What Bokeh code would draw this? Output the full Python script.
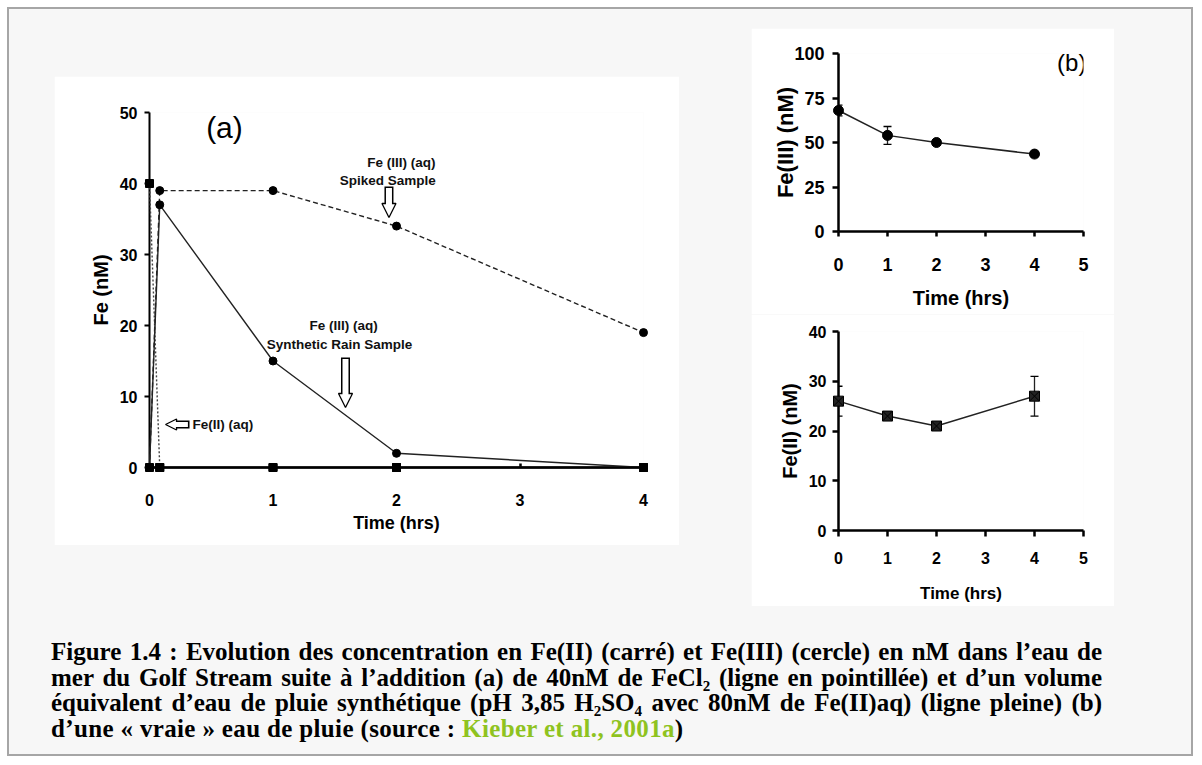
import math
from bokeh.plotting import figure
from bokeh.models import (Range1d, FixedTicker, Label, Arrow, NormalHead, TeeHead,
                          Whisker, ColumnDataSource, Spacer, Div)
from bokeh.layouts import row, column
from bokeh.embed import file_html
from bokeh.resources import INLINE

# ---------------- data : panel (a) ----------------
time_a = [0, 0.083, 1, 2, 4]
fe3_spiked = [0, 39, 39, 34, 19]
fe2_spiked = [40, 0, 0, 0, 0]
fe3_rain = [0, 37, 15, 2, 0]
fe2_rain = [0, 0, 0, 0, 0]
ticks_a_x = [0, 1, 2, 3, 4]
ticks_a_y = [0, 10, 20, 30, 40, 50]

# ---------------- data : panel (b) ----------------
time_b = [0, 1, 2, 4]
fe3_real = [68, 54, 50, 43.5]
fe3_err = [3, 5, 1.5, 1.5]
fe2_real = [26, 23, 21, 27]
fe2_err = [3, 0.7, 0.8, 4]
ticks_b_x = [0, 1, 2, 3, 4, 5]
ticks_b1_y = [0, 25, 50, 75, 100]
ticks_b2_y = [0, 10, 20, 30, 40]

caption_lines = [
    "Figure 1.4 : Evolution des concentration en Fe(II) (carré) et Fe(III) (cercle) en nM dans l’eau de",
    "mer du Golf Stream suite à l’addition (a) de 40nM de FeCl₂ (ligne en pointillée) et d’un volume",
    "équivalent d’eau de pluie synthétique (pH 3,85 H₂SO₄ avec 80nM de Fe(II)aq) (ligne pleine) (b)",
    "d’une « vraie » eau de pluie (source : <span style=\"color:#8fc31f\">Kieber et al., 2001a</span>)",
]

SANS = "Liberation Sans"


def base_fig(w, h, xr, yr, bl, br, bt, bb):
    p = figure(width=w, height=h, x_range=Range1d(*xr), y_range=Range1d(*yr),
               output_backend="svg", toolbar_location=None,
               min_border_left=bl, min_border_right=br, min_border_top=bt, min_border_bottom=bb)
    p.xgrid.visible = False
    p.ygrid.visible = False
    p.outline_line_color = None
    p.background_fill_color = "white"
    p.border_fill_color = "white"
    return p


def style_axis(ax, ticks, bounds, tin, tout, font_size, standoff, label_size, label_standoff, lw=2):
    ax.ticker = FixedTicker(ticks=ticks)
    ax.bounds = bounds
    ax.axis_line_width = lw
    ax.axis_line_color = "black"
    ax.major_tick_line_width = lw
    ax.major_tick_line_color = "black"
    ax.major_tick_in = tin
    ax.major_tick_out = tout
    ax.minor_tick_line_color = None
    ax.major_label_text_font = SANS
    ax.major_label_text_font_style = "bold"
    ax.major_label_text_font_size = font_size
    ax.major_label_text_color = "black"
    ax.major_label_standoff = standoff
    ax.axis_label_text_font = SANS
    ax.axis_label_text_font_style = "bold"
    ax.axis_label_text_font_size = label_size
    ax.axis_label_text_color = "black"
    ax.axis_label_standoff = label_standoff


def hollow_arrow(p, x0, y0, x1, y1, pxx, pxy, head=14, shaft=9):
    p.add_layout(Arrow(x_start=x0, y_start=y0, x_end=x1, y_end=y1,
                       line_width=shaft, line_color="black",
                       end=NormalHead(size=head, fill_color="white", line_color="black", line_width=1.3)))
    dx = (x1 - x0) * pxx
    dy = (y1 - y0) * pxy
    L = math.hypot(dx, dy)
    ux, uy = dx / L, dy / L
    p.add_layout(Arrow(x_start=x0 + ux * 1.6 / pxx, y_start=y0 + uy * 1.6 / pxy,
                       x_end=x1 - ux * (head - 2) / pxx, y_end=y1 - uy * (head - 2) / pxy,
                       line_width=shaft - 3, line_color="white", end=None))


def note(p, x, y, text, align="center", size="13.5px"):
    p.add_layout(Label(x=x, y=y, text=text, text_font=SANS, text_font_style="bold",
                       text_font_size=size, text_align=align, text_baseline="middle",
                       text_color="#111111"))


# ---------------- panel (a) ----------------
pa = base_fig(625, 469, (0, 4), (0, 50), 95, 36, 36, 78)
pa.xaxis.axis_label = "Time (hrs)"
pa.yaxis.axis_label = "Fe (nM)"
style_axis(pa.xaxis[0], ticks_a_x, (0, 4), 4, 0, "16px", 26, "18px", 4, lw=2.5)
style_axis(pa.yaxis[0], ticks_a_y, (0, 50), 0, 5, "16px", 7, "20px", 5)

src_a = ColumnDataSource(dict(t=time_a, s3=fe3_spiked, s2=fe2_spiked, r3=fe3_rain, r2=fe2_rain))
pa.line("t", "s3", source=src_a, line_color="#222222", line_width=1.4, line_dash="5 3", level="overlay")
pa.line("t", "s2", source=src_a, line_color="#444444", line_width=1.4, line_dash="2 2", level="overlay")
pa.line("t", "r3", source=src_a, line_color="#222222", line_width=1.4, level="overlay")
pa.line("t", "r2", source=src_a, line_color="black", line_width=2, level="overlay")
pa.scatter("t", "s3", source=src_a, marker="circle", size=8, color="black", level="overlay")
pa.scatter("t", "r3", source=src_a, marker="circle", size=8, color="black", level="overlay")
pa.scatter("t", "s2", source=src_a, marker="square", size=8, color="black", level="overlay")
pa.scatter("t", "r2", source=src_a, marker="square", size=8, color="black", level="overlay")

pxx_a = 494 / 4.0
pxy_a = 355 / 50.0
pa.add_layout(Label(x=0.607, y=47.9, text="(a)", text_font=SANS, text_font_size="30px",
                    text_align="center", text_baseline="middle", text_color="black"))
note(pa, 2.04, 42.96, "Fe (III) (aq)")
note(pa, 1.93, 40.4, "Spiked Sample")
note(pa, 1.571, 20.0, "Fe (III) (aq)")
note(pa, 1.538, 17.32, "Synthetic Rain Sample")
note(pa, 0.348, 6.06, "Fe(II) (aq)", align="left")
hollow_arrow(pa, 1.939, 39.58, 1.939, 35.21, pxx_a, pxy_a)
hollow_arrow(pa, 1.587, 15.49, 1.587, 8.45, pxx_a, pxy_a)
hollow_arrow(pa, 0.324, 6.06, 0.13, 6.06, pxx_a, pxy_a, head=11, shaft=8)

# ---------------- panel (b) top ----------------
pb1 = base_fig(363, 286, (0, 5), (0, 100), 81, 31, 25, 83)
pb1.xaxis.axis_label = "Time (hrs)"
pb1.yaxis.axis_label = "Fe(III) (nM)"
style_axis(pb1.xaxis[0], ticks_b_x, (0, 5), 0, 5, "18px", 21, "20px", 13, lw=2.5)
style_axis(pb1.yaxis[0], ticks_b1_y, (0, 100), 0, 6, "18px", 8, "22px", -7, lw=2.5)

src_b1 = ColumnDataSource(dict(t=time_b, v=fe3_real,
                               lo=[v - e for v, e in zip(fe3_real, fe3_err)],
                               hi=[v + e for v, e in zip(fe3_real, fe3_err)]))
pb1.line("t", "v", source=src_b1, line_color="#222222", line_width=1.5, level="overlay")
pb1.add_layout(Whisker(source=src_b1, base="t", lower="lo", upper="hi", dimension="height",
                       line_width=1.3, line_color="#222222",
                       lower_head=TeeHead(size=8, line_width=1.3), upper_head=TeeHead(size=8, line_width=1.3)))
pb1.scatter("t", "v", source=src_b1, marker="circle", size=10, color="black", level="overlay")
pb1.add_layout(Label(x=4.76, y=94.9, text="(b)", text_font=SANS, text_font_size="24px",
                     text_align="center", text_baseline="middle", text_color="black"))

# ---------------- panel (b) bottom ----------------
pb2 = base_fig(363, 292, (0, 5), (0, 40), 87, 14, 17, 76)
pb2.xaxis.axis_label = "Time (hrs)"
pb2.yaxis.axis_label = "Fe(II) (nM)"
style_axis(pb2.xaxis[0], ticks_b_x, (0, 5), 0, 6, "16px", 15, "17px", 17, lw=2.5)
style_axis(pb2.yaxis[0], ticks_b2_y, (0, 40), 0, 6, "16px", 6, "20px", 5, lw=2.5)

src_b2 = ColumnDataSource(dict(t=time_b, v=fe2_real,
                               lo=[v - e for v, e in zip(fe2_real, fe2_err)],
                               hi=[v + e for v, e in zip(fe2_real, fe2_err)]))
pb2.line("t", "v", source=src_b2, line_color="#222222", line_width=1.5, level="overlay")
pb2.add_layout(Whisker(source=src_b2, base="t", lower="lo", upper="hi", dimension="height",
                       line_width=1.3, line_color="#222222",
                       lower_head=TeeHead(size=8, line_width=1.3), upper_head=TeeHead(size=8, line_width=1.3)))
pb2.scatter("t", "v", source=src_b2, marker="square_x", size=10, fill_color="#222222",
            line_color="black", level="overlay")

# ---------------- caption ----------------
line_style = "height:25.5px;line-height:25.5px;white-space:normal;"
html = ""
for i, ln in enumerate(caption_lines):
    if i < 3:
        html += f'<div style="{line_style}text-align:justify;text-align-last:justify;">{ln}</div>'
    else:
        html += f'<div style="{line_style}text-align:left;letter-spacing:0.35px;">{ln}</div>'
html = ('<div style="font-family:\'Liberation Serif\',\'Times New Roman\',serif;font-weight:bold;'
        'font-size:25px;color:#000;width:1051px;">' + html + '</div>')
caption = Div(text=html, width=1051, height=102)

# ---------------- layout ----------------
col_a = column(Spacer(width=625, height=48), pa, width=625, height=517)
col_b = column(pb1, pb2, width=363, height=578)
top_row = row(Spacer(width=47, height=578), col_a, Spacer(width=72, height=578), col_b,
              width=1107, height=578)
cap_row = row(Spacer(width=39, height=102), caption, width=1090, height=102)
root = column(Spacer(width=1186, height=21), top_row, Spacer(width=1186, height=28), cap_row,
              width=1186, height=749,
              styles={"background-color": "#f7f7f7", "outline": "2px solid #a6a6a6",
                      "outline-offset": "-2px"})
page = column(Spacer(width=1193, height=7),
              row(Spacer(width=7, height=749), root, width=1193, height=749),
              width=1193, height=756)

open("out.html", "w").write(file_html(page, INLINE))
